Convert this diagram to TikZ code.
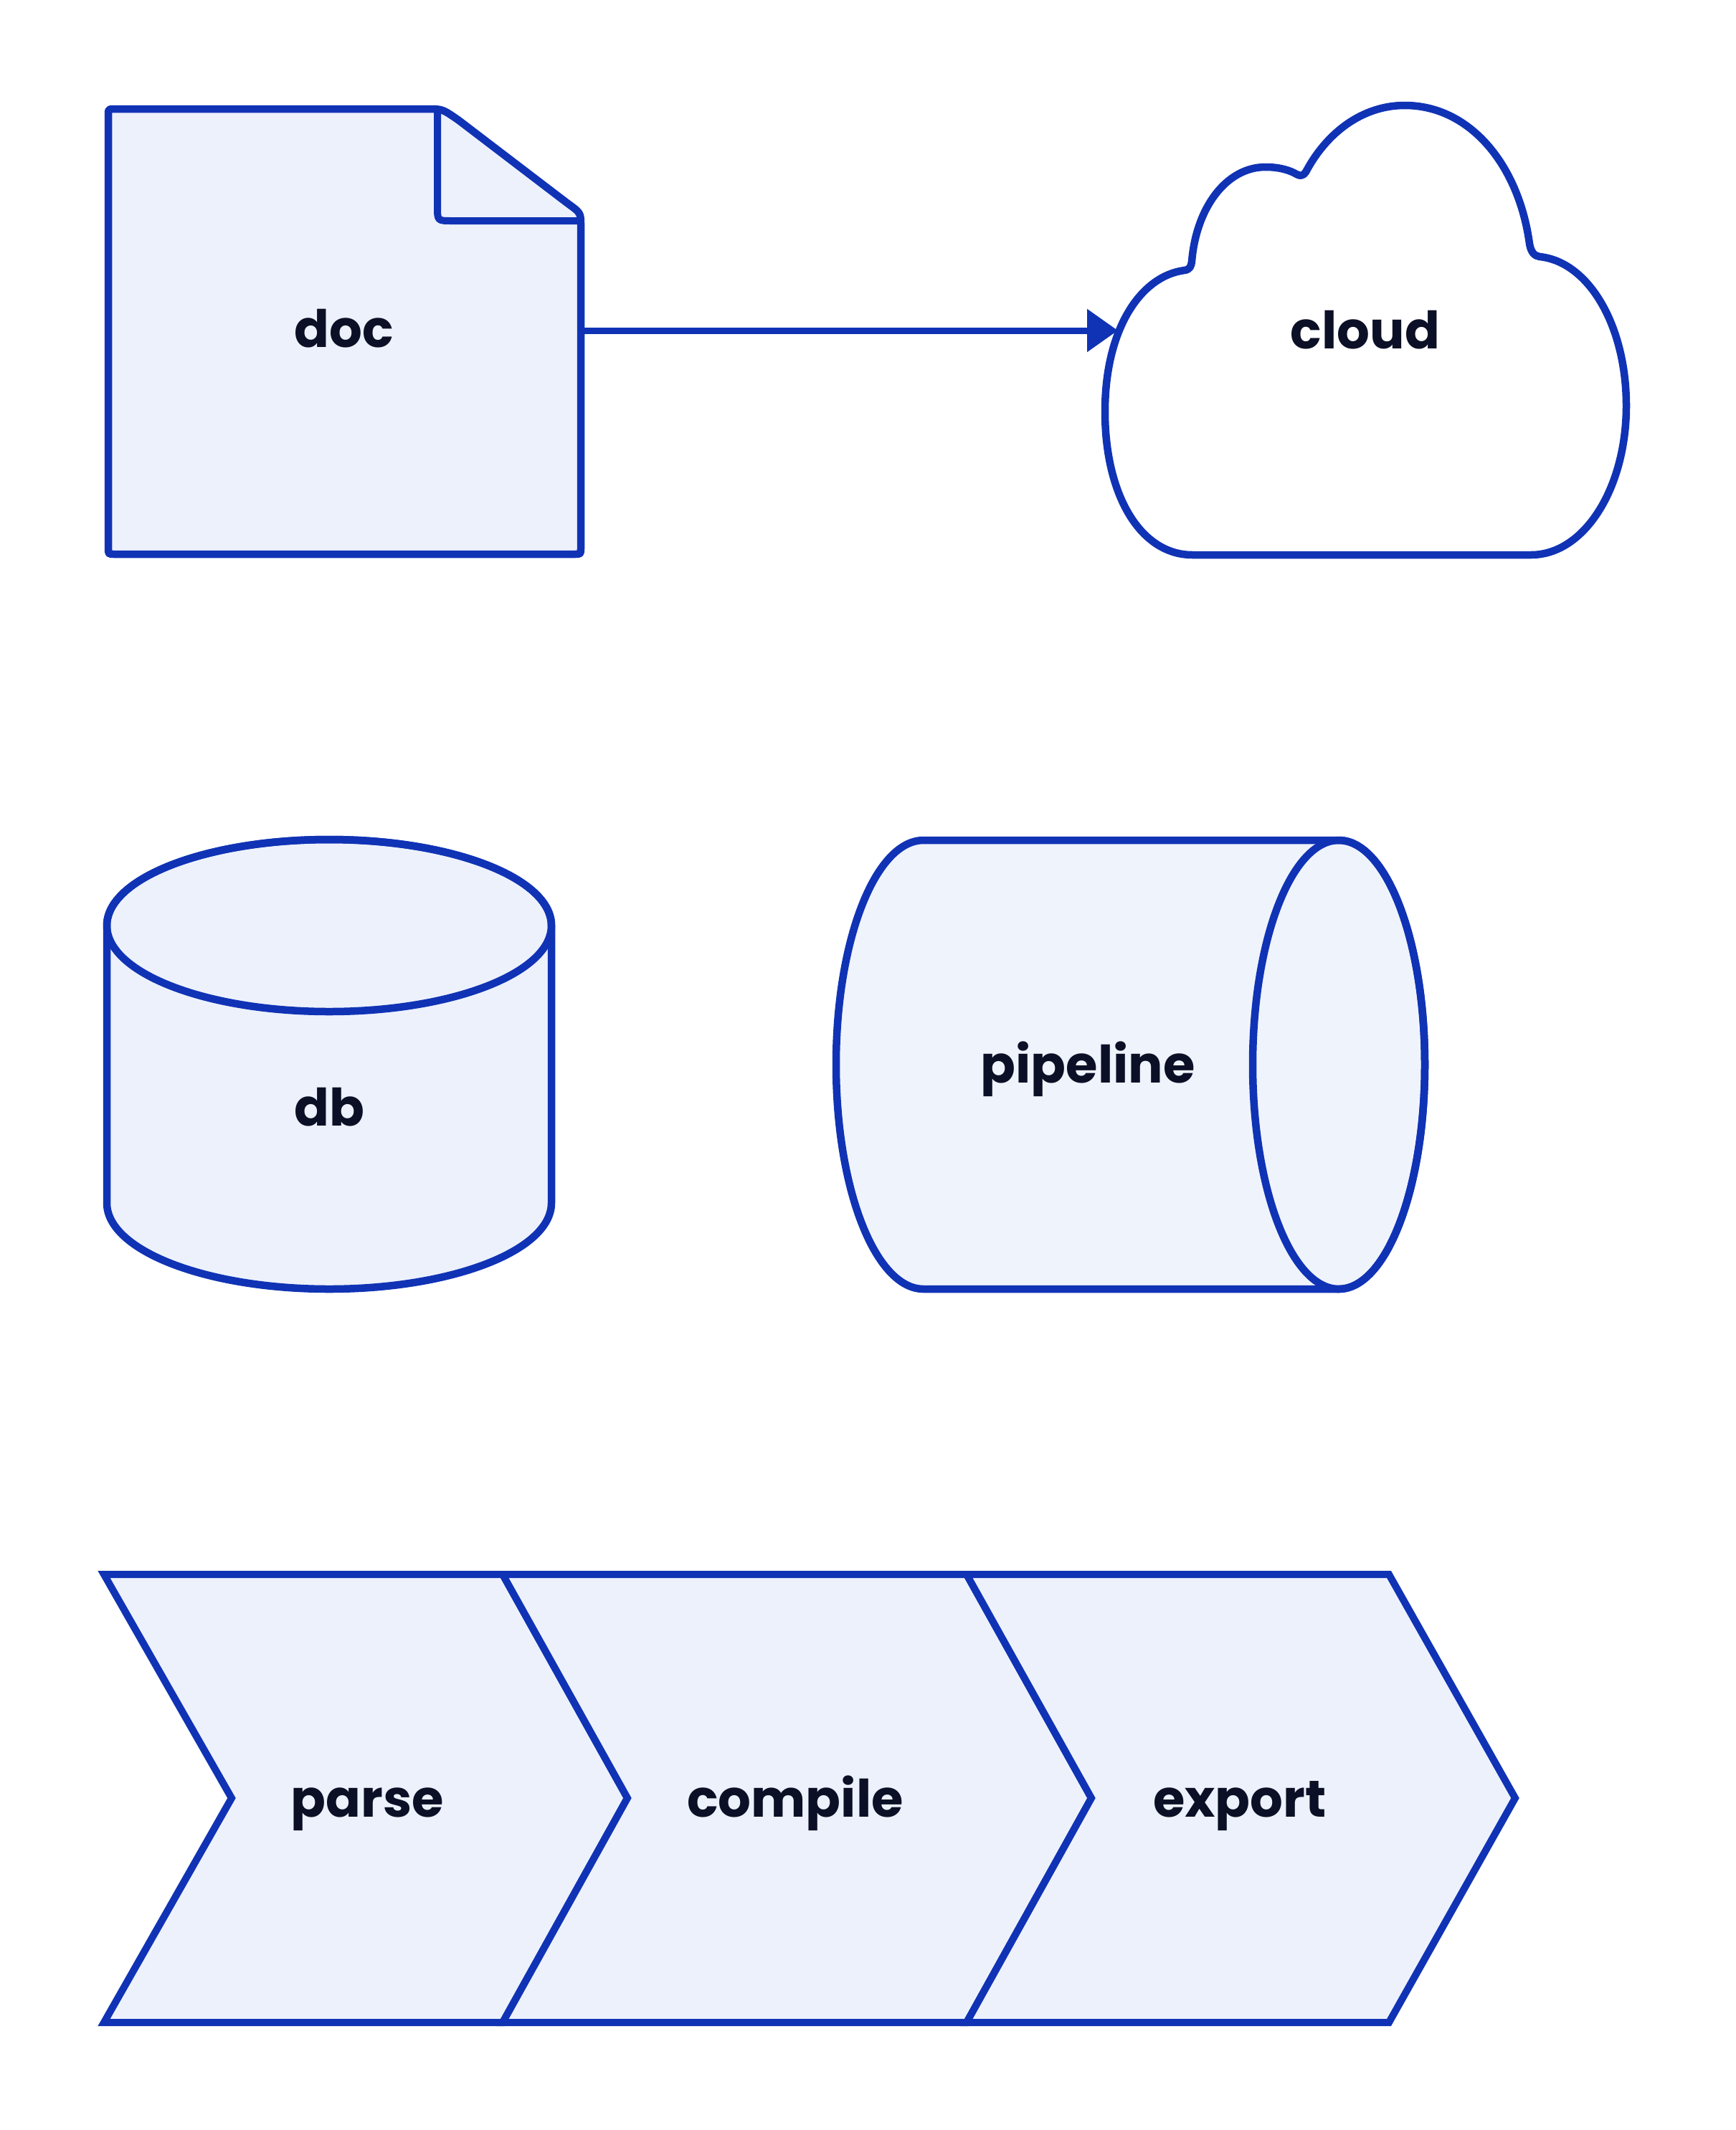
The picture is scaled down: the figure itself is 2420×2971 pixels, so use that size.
\documentclass[tikz,border=0pt]{standalone}
\usepackage{fontspec}
\setmainfont{Poppins}
\usetikzlibrary{arrows.meta}
\definecolor{strk}{HTML}{1033B5}
\definecolor{fillc}{HTML}{EDF1FC}
\definecolor{fillp}{HTML}{EFF3FB}
\definecolor{txt}{HTML}{0C1026}
\tikzset{
  shp/.style={draw=strk, fill=fillc, line width=10.5pt, line join=round},
  chev/.style={draw=strk, fill=fillc, line width=10pt, line join=miter},
  lbl/.style={font=\fontsize{72}{76}\selectfont\bfseries, text=txt, anchor=base, inner sep=0pt},
  conn/.style={draw=strk, line width=9pt, -{Triangle[length=43pt,width=58pt]}}
}
\begin{document}
\begin{tikzpicture}[x=1pt,y=-1pt]
\useasboundingbox (0,0) rectangle (2420,2971);
% doc
\path[shp] (151,160) -- (151,764) .. controls (151,773) .. (160,773)
  -- (801,773) .. controls (810,773) .. (810,764)
  -- (810,315) .. controls (810,297) .. (792,284)
  -- (640,168) .. controls (617,152) .. (597,152)
  -- (160,152) .. controls (151,152) .. (151,160) -- cycle;
\draw[draw=strk, line width=10pt, line join=round] (610,154) -- (610,288) .. controls (610,308) .. (630,308) -- (808,308);
% cloud
\path[shp, fill=white] (1663,774) .. controls (1590,774) and (1541,690) .. (1541,574)
  .. controls (1541,460) and (1590,385) .. (1652,377)
  .. controls (1659,376) and (1661,372) .. (1662,365)
  .. controls (1668,290) and (1710,233) .. (1765,233)
  .. controls (1785,233) and (1800,238) .. (1808,243)
  .. controls (1813,246) and (1818,245) .. (1821,240)
  .. controls (1850,185) and (1900,147) .. (1959,147)
  .. controls (2050,147) and (2118,230) .. (2133,340)
  .. controls (2135,352) and (2140,357) .. (2147,358)
  .. controls (2216,365) and (2268,455) .. (2268,566)
  .. controls (2268,680) and (2210,774) .. (2135,774) -- cycle;
% db
\path[shp] (149,1291) -- (149,1678) arc[start angle=180, end angle=360, x radius=310pt, y radius=120pt]
  -- (769,1291) arc[start angle=0, end angle=180, x radius=310pt, y radius=120pt] -- cycle;
\draw[draw=strk, line width=10.5pt] (459,1291) ellipse [x radius=310pt, y radius=120pt];
% pipeline
\path[shp, fill=fillp] (1288,1172) -- (1867,1172) arc[start angle=90, end angle=-90, x radius=120pt, y radius=313pt]
  -- (1288,1798) arc[start angle=270, end angle=90, x radius=122pt, y radius=313pt] -- cycle;
\draw[draw=strk, line width=10.5pt] (1867,1485) ellipse [x radius=120pt, y radius=313pt];
% chevrons
\path[chev] (145,2196) -- (701,2196) -- (875,2508) -- (701,2821) -- (145,2821) -- (323,2508) -- cycle;
\path[chev] (701,2196) -- (1348,2196) -- (1522,2508) -- (1348,2821) -- (701,2821) -- (875,2508) -- cycle;
\path[chev] (1348,2196) -- (1937,2196) -- (2113,2508) -- (1937,2821) -- (1348,2821) -- (1522,2508) -- cycle;
% labels
\node[lbl] (doc) at (480,484) {doc};
\node[lbl] (cloud) at (1904,486) {cloud};
\node[lbl] (db) at (459,1570) {db};
\node[lbl] (pipeline) at (1517,1510) {pipeline};
\node[lbl] (parse) at (512,2534) {parse};
\node[lbl] (compile) at (1109,2534) {compile};
\node[lbl] (export) at (1729,2534) {export};
% connector
\coordinate (docE) at (810,461);
\coordinate (cloudW) at (1559,461);
\draw[conn] (docE) -- (cloudW);
\end{tikzpicture}
\end{document}
